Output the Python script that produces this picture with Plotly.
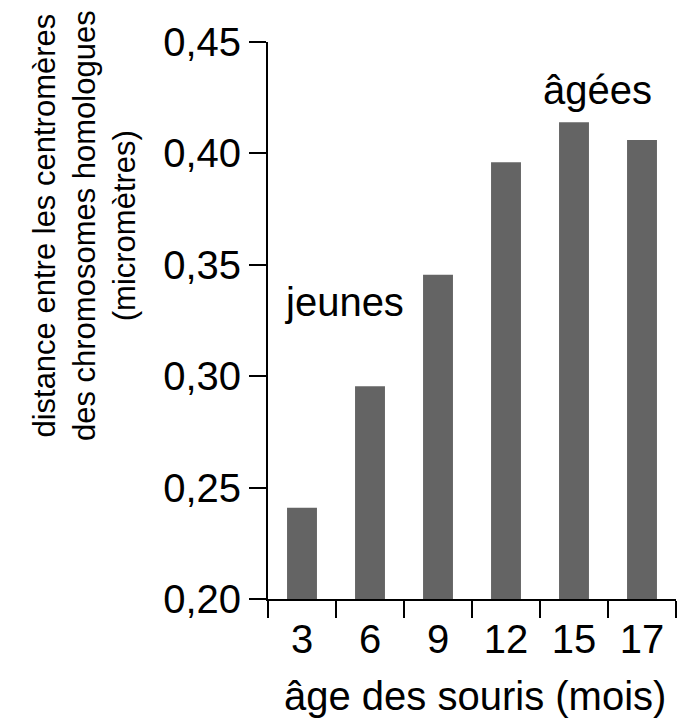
import plotly.graph_objects as go

ages = ["3", "6", "9", "12", "15", "17"]
distances = [0.241, 0.2955, 0.3455, 0.396, 0.414, 0.406]
y_ticks = [0.20, 0.25, 0.30, 0.35, 0.40, 0.45]
y_tick_labels = ["0,20", "0,25", "0,30", "0,35", "0,40", "0,45"]

FONT = "Liberation Sans, Arial, Helvetica, sans-serif"

fig = go.Figure()
fig.add_trace(go.Bar(x=ages, y=distances, marker=dict(color="#646464", line=dict(width=0))))

fig.update_layout(
    width=689, height=722,
    margin=dict(l=260, r=21, t=31, b=131),
    paper_bgcolor="white", plot_bgcolor="white",
    bargap=0.56,
    showlegend=False,
    font=dict(family=FONT, color="black"),
)
fig.update_xaxes(
    type="category", tickson="boundaries", ticks="outside", ticklen=17, tickwidth=2,
    tickcolor="black", showline=True, linecolor="black", linewidth=2,
    showgrid=False, zeroline=False, tickfont=dict(size=40, family=FONT, color="black"),
    ticklabelstandoff=4,
)
fig.update_yaxes(
    range=[0.20, 0.45], tickvals=y_ticks, ticktext=y_tick_labels, ticks="outside",
    ticklen=17, tickwidth=2, tickcolor="black", showline=True, linecolor="black",
    linewidth=2, showgrid=False, zeroline=False,
    tickfont=dict(size=40, family=FONT, color="black"),
)

fig.add_annotation(text="distance entre les centromères<br>des chromosomes homologues<br>(micromètres)",
                   xref="paper", yref="paper", x=-0.449, y=0.671, textangle=-90,
                   showarrow=False, xanchor="center", yanchor="middle",
                   font=dict(size=31, family=FONT, color="black"))
fig.add_annotation(text="âge des souris (mois)", xref="paper", yref="paper", x=0.507, y=-0.175,
                   showarrow=False, xanchor="center", yanchor="middle",
                   font=dict(size=40, family=FONT, color="black"))
fig.add_annotation(text="jeunes", x=0.63, y=0.3335, xref="x", yref="y", showarrow=False,
                   xanchor="center", yanchor="middle", font=dict(size=40, family=FONT, color="black"))
fig.add_annotation(text="âgées", x=4.34, y=0.4286, xref="x", yref="y", showarrow=False,
                   xanchor="center", yanchor="middle", font=dict(size=40, family=FONT, color="black"))

fig.write_html("out.html")
